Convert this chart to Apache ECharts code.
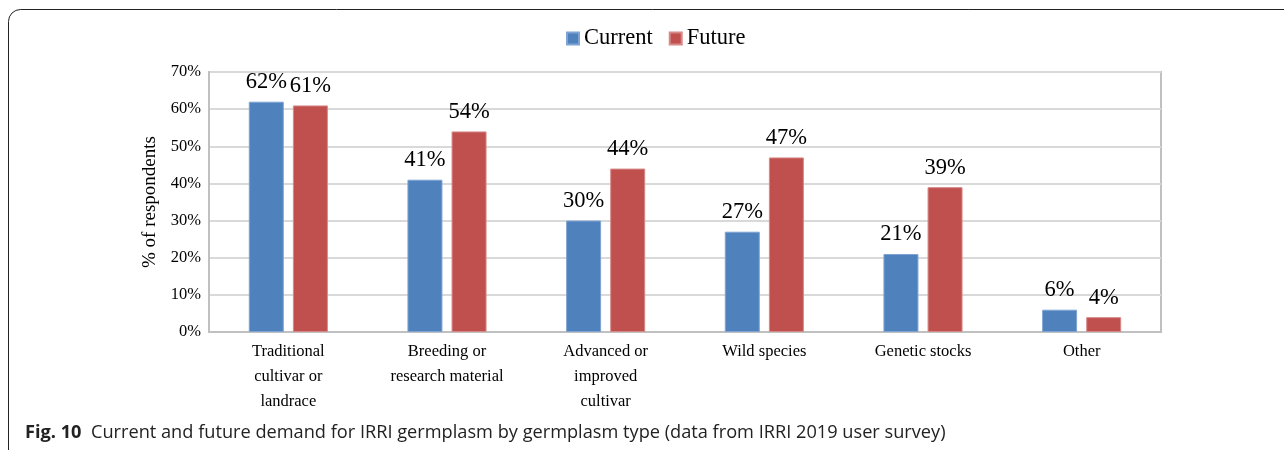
<!DOCTYPE html>
<html>
<head>
<meta charset="utf-8">
<script src="https://cdn.jsdelivr.net/npm/echarts@6/dist/echarts.min.js"></script>
<style>
  html, body { margin: 0; padding: 0; background: #fff; }
  #chart { width: 1284px; height: 450px; }
</style>
</head>
<body>
<div id="chart"></div>
<script>
// germplasm types (x axis)
var categories = [
  'Traditional\ncultivar or\nlandrace',
  'Breeding or\nresearch material',
  'Advanced or\nimproved\ncultivar',
  'Wild species',
  'Genetic stocks',
  'Other'
]
// % of respondents
var currentData = [62, 41, 30, 27, 21, 6]
var futureData = [61, 54, 44, 47, 39, 4]
var yTicks = [0, 10, 20, 30, 40, 50, 60, 70]

var serif = 'Liberation Serif'

var chart = echarts.init(document.getElementById('chart'))

function barLabel() {
  return {
    show: true,
    position: 'top',
    distance: 8,
    fontFamily: serif,
    fontSize: 22.5,
    color: '#000',
    formatter: '{c}%'
  }
}

chart.setOption({
  animation: false,
  backgroundColor: '#fff',
  graphic: [
    {
      // figure frame
      type: 'rect',
      shape: { x: 8.5, y: 9.5, width: 1400, height: 600, r: 12 },
      style: { fill: 'none', stroke: '#222', lineWidth: 1 },
      silent: true
    },
    {
      type: 'text',
      left: 25,
      top: 424,
      style: {
        text: '{b|Fig. 10}  Current and future demand for IRRI germplasm by germplasm type (data from IRRI 2019 user survey)',
        font: '18.2px "Open Sans"',
        fill: '#222',
        rich: {
          b: { fontWeight: 'bold', fontFamily: 'Open Sans', fontSize: 18.2, fill: '#222' }
        }
      }
    }
  ],
  legend: {
    data: ['Current', 'Future'],
    left: 561,
    top: 22,
    itemWidth: 12,
    itemHeight: 12,
    itemGap: 16,
    icon: 'rect',
    textStyle: { fontFamily: serif, fontSize: 22.5, color: '#000', padding: [0, 0, 0, 0] }
  },
  grid: {
    left: 209,
    right: 123,
    top: 72,
    bottom: 118,
    show: true,
    borderColor: '#c0c0c0',
    borderWidth: 2
  },
  xAxis: {
    type: 'category',
    data: categories,
    axisLine: { lineStyle: { color: '#c0c0c0', width: 2 } },
    axisTick: { show: false },
    axisLabel: {
      fontFamily: serif,
      fontSize: 16.5,
      color: '#000',
      lineHeight: 25,
      margin: 7
    }
  },
  yAxis: {
    type: 'value',
    min: 0,
    max: 70,
    interval: 10,
    name: '% of respondents',
    nameLocation: 'middle',
    nameGap: 49,
    nameTextStyle: { fontFamily: serif, fontSize: 19, color: '#000' },
    axisLine: { show: true, lineStyle: { color: '#c0c0c0', width: 2 } },
    axisTick: { show: false },
    axisLabel: {
      fontFamily: serif,
      fontSize: 16.5,
      color: '#000',
      margin: 8,
      formatter: function (v) { return yTicks.indexOf(v) > -1 ? v + '%' : '' }
    },
    splitLine: { lineStyle: { color: '#d9d9d9', width: 2 } }
  },
  series: [
    {
      name: 'Current',
      type: 'bar',
      data: currentData,
      barWidth: 35,
      barGap: '26%',
      itemStyle: { color: '#4f81bd', borderColor: '#7fa3d3', borderWidth: 1 },
      label: barLabel()
    },
    {
      name: 'Future',
      type: 'bar',
      data: futureData,
      barWidth: 35,
      itemStyle: { color: '#c0504d', borderColor: '#d68a88', borderWidth: 1 },
      label: barLabel()
    }
  ]
})
</script>
</body>
</html>
